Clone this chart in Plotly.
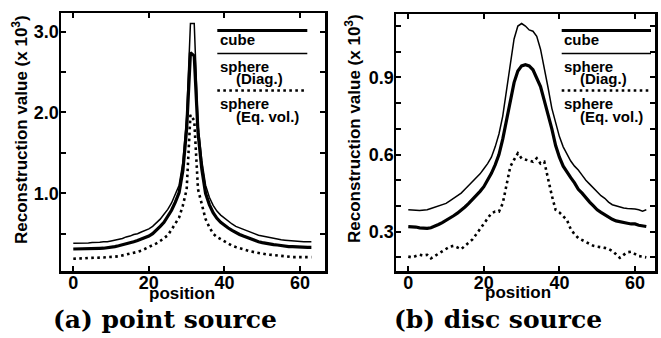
import plotly.graph_objects as go

# ---------------- data ----------------
positions = list(range(64))

# (a) point source
point_cube = [0.31, 0.31, 0.31, 0.31, 0.312, 0.315, 0.316, 0.318, 0.32, 0.325,
              0.33, 0.34, 0.35, 0.36, 0.37, 0.385, 0.40, 0.415, 0.43, 0.45,
              0.47, 0.50, 0.54, 0.59, 0.64, 0.71, 0.79, 0.89, 1.01, 1.28,
              1.80, 2.74, 2.70, 1.75, 1.30, 1.00, 0.86, 0.76, 0.69, 0.64,
              0.60, 0.57, 0.54, 0.51, 0.49, 0.47, 0.45, 0.43, 0.41, 0.40,
              0.39, 0.38, 0.37, 0.365, 0.36, 0.35, 0.345, 0.34, 0.34, 0.335,
              0.33, 0.33, 0.33, 0.33]
point_sphere_diag = [0.38, 0.38, 0.38, 0.38, 0.385, 0.39, 0.39, 0.395, 0.40, 0.40,
                     0.41, 0.42, 0.43, 0.44, 0.46, 0.47, 0.49, 0.50, 0.52, 0.54,
                     0.56, 0.59, 0.63, 0.68, 0.74, 0.80, 0.88, 0.98, 1.10, 1.38,
                     1.95, 3.10, 3.10, 1.85, 1.40, 1.10, 0.95, 0.85, 0.78, 0.73,
                     0.69, 0.65, 0.62, 0.59, 0.57, 0.55, 0.53, 0.51, 0.49, 0.48,
                     0.47, 0.46, 0.45, 0.44, 0.43, 0.425, 0.42, 0.415, 0.41, 0.405,
                     0.40, 0.40, 0.40, 0.40]
point_sphere_eqvol = [0.19, 0.19, 0.195, 0.195, 0.20, 0.20, 0.20, 0.205, 0.205, 0.21,
                      0.21, 0.215, 0.22, 0.23, 0.24, 0.25, 0.26, 0.275, 0.29, 0.31,
                      0.33, 0.355, 0.38, 0.41, 0.44, 0.48, 0.55, 0.62, 0.70, 0.85,
                      1.05, 1.97, 1.90, 1.05, 0.85, 0.68, 0.58, 0.50, 0.46, 0.43,
                      0.40, 0.375, 0.35, 0.335, 0.32, 0.305, 0.29, 0.28, 0.27, 0.26,
                      0.25, 0.245, 0.24, 0.235, 0.23, 0.22, 0.215, 0.21, 0.21, 0.21,
                      0.21, 0.21, 0.21, 0.21]

# (b) disc source
disc_cube = [0.32, 0.32, 0.318, 0.315, 0.313, 0.313, 0.315, 0.32, 0.328, 0.335,
             0.343, 0.352, 0.362, 0.372, 0.383, 0.396, 0.41, 0.425, 0.44, 0.457,
             0.475, 0.50, 0.527, 0.56, 0.60, 0.66, 0.735, 0.81, 0.88, 0.925,
             0.945, 0.95, 0.945, 0.93, 0.90, 0.865, 0.81, 0.76, 0.70, 0.635,
             0.59, 0.555, 0.53, 0.51, 0.49, 0.465, 0.45, 0.43, 0.415, 0.40,
             0.385, 0.375, 0.365, 0.355, 0.348, 0.342, 0.338, 0.335, 0.333, 0.33,
             0.33, 0.325, 0.322, 0.32]
disc_sphere_diag = [0.385, 0.385, 0.383, 0.382, 0.383, 0.385, 0.39, 0.395, 0.40, 0.405,
                    0.41, 0.42, 0.43, 0.44, 0.45, 0.465, 0.48, 0.495, 0.51, 0.525,
                    0.545, 0.565, 0.59, 0.63, 0.68, 0.75, 0.85, 0.96, 1.05, 1.10,
                    1.11, 1.10, 1.085, 1.08, 1.06, 1.01, 0.94, 0.86, 0.78, 0.72,
                    0.67, 0.63, 0.60, 0.575, 0.555, 0.54, 0.52, 0.50, 0.485, 0.47,
                    0.455, 0.44, 0.43, 0.415, 0.405, 0.40, 0.395, 0.392, 0.39, 0.39,
                    0.388, 0.385, 0.38, 0.385]
disc_sphere_eqvol = [0.203, 0.20, 0.205, 0.21, 0.207, 0.21, 0.196, 0.205, 0.215, 0.225,
                     0.235, 0.242, 0.245, 0.238, 0.232, 0.245, 0.258, 0.27, 0.29, 0.31,
                     0.33, 0.352, 0.372, 0.378, 0.378, 0.41, 0.475, 0.553, 0.58, 0.605,
                     0.585, 0.58, 0.575, 0.572, 0.586, 0.565, 0.572, 0.50, 0.44, 0.385,
                     0.375, 0.36, 0.345, 0.31, 0.29, 0.275, 0.268, 0.26, 0.252, 0.245,
                     0.242, 0.24, 0.237, 0.233, 0.225, 0.212, 0.198, 0.21, 0.22, 0.222,
                     0.215, 0.205, 0.203, 0.20]

x_tick_vals = [0, 20, 40, 60]
x_tick_text = ["0", "20", "40", "60"]
a_y_tick_vals = [0.5, 1.0, 1.5, 2.0, 2.5, 3.0]
a_y_tick_text = ["", "1.0", "", "2.0", "", "3.0"]
b_y_tick_vals = [0.2, 0.3, 0.4, 0.5, 0.6, 0.7, 0.8, 0.9, 1.0, 1.1]
b_y_tick_text = ["", "0.3", "", "", "0.6", "", "", "0.9", "", ""]

series_names = ["cube", "sphere (Diag.)", "sphere (Eq. vol.)"]
captions = ["(a) point source", "(b) disc source"]
y_title = "Reconstruction value (x 10<sup>3</sup>)"
x_title = "position"

# ---------------- styling ----------------
W, H = 661, 338
def px(x):
    return x / W
def py(y):
    return 1 - y / H

styles = [dict(color="black", width=3.2),
          dict(color="black", width=1.5),
          dict(color="black", width=2.6, dash="2.6px,3.4px")]

fig = go.Figure()
panels = [
    ("x", "y", [point_cube, point_sphere_diag, point_sphere_eqvol]),
    ("x2", "y2", [disc_cube, disc_sphere_diag, disc_sphere_eqvol]),
]
for xa, ya, ser in panels:
    for name, vals, st in zip(series_names, ser, styles):
        fig.add_trace(go.Scatter(x=positions, y=vals, mode="lines", name=name,
                                 line=st, xaxis=xa, yaxis=ya, showlegend=False))

tickfont = dict(family="Liberation Sans", size=18, color="black", weight="bold")
axis_common = dict(showline=True, linecolor="black", linewidth=2.5, mirror="ticks",
                   ticks="inside", ticklen=5, tickwidth=2, tickcolor="black",
                   showgrid=False, zeroline=False, tickfont=tickfont, fixedrange=True)

fig.update_layout(
    width=W, height=H, autosize=False,
    margin=dict(l=0, r=0, t=0, b=0),
    paper_bgcolor="white", plot_bgcolor="white",
    xaxis=dict(domain=[px(61), px(325)], range=[-3.25, 66.6], anchor="y",
               tickvals=x_tick_vals, ticktext=x_tick_text, ticklabelstandoff=-6, **axis_common),
    yaxis=dict(domain=[py(271), py(13)], range=[0.038, 3.231], anchor="x",
               tickvals=a_y_tick_vals, ticktext=a_y_tick_text, ticklabelstandoff=-4, **axis_common),
    xaxis2=dict(domain=[px(396), px(655)], range=[-3.25, 65.3], anchor="y2",
                tickvals=x_tick_vals, ticktext=x_tick_text, ticklabelstandoff=-6, **axis_common),
    yaxis2=dict(domain=[py(271), py(14)], range=[0.147, 1.147], anchor="x2",
                tickvals=b_y_tick_vals, ticktext=b_y_tick_text, ticklabelstandoff=-4, **axis_common),
)

lab_font = dict(family="Liberation Sans", size=17, color="black", weight="bold")
leg_font = dict(family="Liberation Sans", size=15, color="black", weight="bold")
cap_font = dict(family="DejaVu Serif", size=25, color="black", weight="bold")

annotations = []
shapes = []
panel_geo = [
    dict(yt_x=20, yt_y=130, xt_x=182.5, xt_y=293, cap_x=164.5, leg_l=217.3, leg_r=307.3, txt_l=218.3, sub_l=234),
    dict(yt_x=353, yt_y=129, xt_x=517.5, xt_y=292, cap_x=497.5, leg_l=561.7, leg_r=651, txt_l=562, sub_l=578),
]
for i, g in enumerate(panel_geo):
    annotations.append(dict(text=y_title, x=px(g["yt_x"]), y=py(g["yt_y"]), xref="paper", yref="paper",
                            textangle=-90, showarrow=False, font=lab_font,
                            xanchor="center", yanchor="middle"))
    annotations.append(dict(text=x_title, x=px(g["xt_x"]), y=py(g["xt_y"]), xref="paper", yref="paper",
                            showarrow=False, font=lab_font, xanchor="center", yanchor="middle"))
    annotations.append(dict(text=captions[i], x=px(g["cap_x"]), y=py(319), xref="paper", yref="paper",
                            showarrow=False, font=cap_font, xanchor="center", yanchor="middle"))
    for st, ly in zip(styles, [30.5, 53.5, 90.5]):
        shapes.append(dict(type="line", xref="paper", yref="paper",
                           x0=px(g["leg_l"]), x1=px(g["leg_r"]), y0=py(ly), y1=py(ly),
                           line=st))
    for txt, lx, ly in [("cube", g["txt_l"], 40), ("sphere", g["txt_l"], 66),
                        ("(Diag.)", g["sub_l"], 78.5), ("sphere", g["txt_l"], 103),
                        ("(Eq. vol.)", g["sub_l"], 116.5)]:
        annotations.append(dict(text=txt, x=px(lx), y=py(ly), xref="paper", yref="paper",
                                showarrow=False, font=leg_font, xanchor="left", yanchor="middle"))

fig.update_layout(annotations=annotations, shapes=shapes)
fig.write_html("out.html",
               config={"displayModeBar": False, "staticPlot": True},
               post_script="document.documentElement.style.margin='0';document.body.style.margin='0';")
